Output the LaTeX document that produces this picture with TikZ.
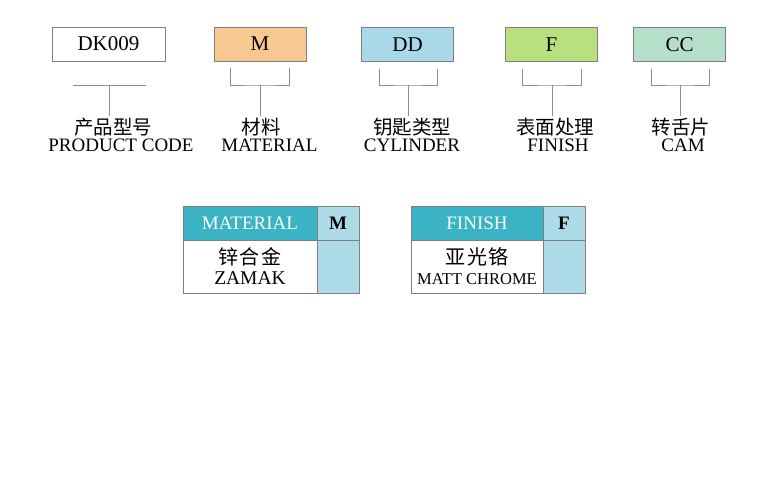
\documentclass[tikz,border=0pt]{standalone}
\usepackage{fontspec}
\setmainfont{Liberation Serif}
\newfontfamily\cjk{Noto Sans CJK SC}
\newfontfamily\cjkwide[LetterSpace=8]{Noto Sans CJK SC}
\usetikzlibrary{calc}

\definecolor{matorange}{HTML}{F8C891}
\definecolor{cylblue}{HTML}{A9D9E8}
\definecolor{fingreen}{HTML}{B9E07E}
\definecolor{cammint}{HTML}{B5DFC9}
\definecolor{headteal}{HTML}{3AB4C4}
\definecolor{codeblue}{HTML}{ADDBE7}
\definecolor{framegray}{HTML}{7F7F7F}
\definecolor{bracegray}{HTML}{8C8C8C}

\begin{document}
\begin{tikzpicture}[x=1pt,y=-1pt,
    codebox/.style={draw=framegray, minimum width=92, minimum height=34, inner sep=0, font=\fontsize{21}{21}\selectfont},
    cnlabel/.style={inner sep=2pt, font=\cjk\fontsize{19.5}{19.5}\selectfont},
    enlabel/.style={inner sep=0, font=\fontsize{19}{19}\selectfont},
    brace/.style={draw=bracegray, line width=0.8pt},
    tablehead/.style={draw=framegray, fill=headteal, text=white, minimum height=34, inner sep=0, font=\fontsize{19}{19}\selectfont},
    tablecode/.style={draw=framegray, fill=codeblue, minimum width=42, minimum height=34, inner sep=0, font=\bfseries\fontsize{19}{19}\selectfont},
    tablebody/.style={draw=framegray, fill=white, minimum height=53, inner sep=0, align=center, font=\fontsize{19.5}{20}\selectfont},
    tableblank/.style={draw=framegray, fill=codeblue, minimum width=42, minimum height=53}]
    \useasboundingbox (0,0) rectangle (778,500);
    % code boxes
    \node (dk) at (108.5,44) [codebox, minimum width=113] {DK009};
    \node (m) at (260,44) [codebox, fill=matorange] {M};
    \node (dd) at (407.5,44.5) [codebox, fill=cylblue] {DD};
    \node (f) at (551.5,44.5) [codebox, fill=fingreen] {F};
    \node (cc) at (679.5,44.5) [codebox, fill=cammint] {CC};
    % labels
    \node (dk_cn) at (113,127) [cnlabel] {产品型号};
    \node (dk_en) at (121,145) [enlabel] {PRODUCT CODE};
    \node (m_cn) at (261,127) [cnlabel] {材料};
    \node (m_en) at (269.5,145) [enlabel] {MATERIAL};
    \node (dd_cn) at (412,127) [cnlabel] {钥匙类型};
    \node (dd_en) at (412,145) [enlabel] {CYLINDER};
    \node (f_cn) at (555,127) [cnlabel] {表面处理};
    \node (f_en) at (558,145) [enlabel] {FINISH};
    \node (cc_cn) at (681,127) [cnlabel] {转舌片};
    \node (cc_en) at (683,145) [enlabel] {CAM};
    % brackets
    \coordinate (dk_br) at (109,85);
    \draw[brace] ([xshift=-36]dk_br) -- ([xshift=37]dk_br);
    \draw[brace] (dk_br) -- (dk_br |- dk_cn.north);
    \coordinate (m_br) at (260,85);
    \draw[brace] ([xshift=-30,yshift=-7]m.south) |- (m_br) -| ([xshift=29,yshift=-7]m.south);
    \draw[brace] (m_br) -- (m_br |- m_cn.north);
    \coordinate (dd_br) at (408,85);
    \draw[brace] ([xshift=-28.5,yshift=-7]dd.south) |- (dd_br) -| ([xshift=29.5,yshift=-7]dd.south);
    \draw[brace] (dd_br) -- (dd_br |- dd_cn.north);
    \coordinate (f_br) at (552,85);
    \draw[brace] ([xshift=-29.5,yshift=-7]f.south) |- (f_br) -| ([xshift=29.5,yshift=-7]f.south);
    \draw[brace] (f_br) -- (f_br |- f_cn.north);
    \coordinate (cc_br) at (680,85);
    \draw[brace] ([xshift=-28.5,yshift=-7]cc.south) |- (cc_br) -| ([xshift=29.5,yshift=-7]cc.south);
    \draw[brace] (cc_br) -- (cc_br |- cc_cn.north);
    % material table
    \node (mat_head) at (250,223) [tablehead, minimum width=134] {MATERIAL};
    \node (mat_code) at (338,223) [tablecode] {M};
    \node (mat_body) at (250,266.5) [tablebody, minimum width=134] {{\cjkwide\fontsize{20}{20}\selectfont 锌合金}\\ZAMAK};
    \node (mat_blank) at (338,266.5) [tableblank] {};
    % finish table
    \node (fin_head) at (477,223) [tablehead, minimum width=132] {FINISH};
    \node (fin_code) at (564,223) [tablecode] {F};
    \node (fin_body) at (477,266.5) [tablebody, minimum width=132] {{\cjkwide\fontsize{20}{20}\selectfont 亚光铬}\\{\fontsize{16.5}{20}\selectfont MATT CHROME}};
    \node (fin_blank) at (564,266.5) [tableblank] {};
\end{tikzpicture}
\end{document}
